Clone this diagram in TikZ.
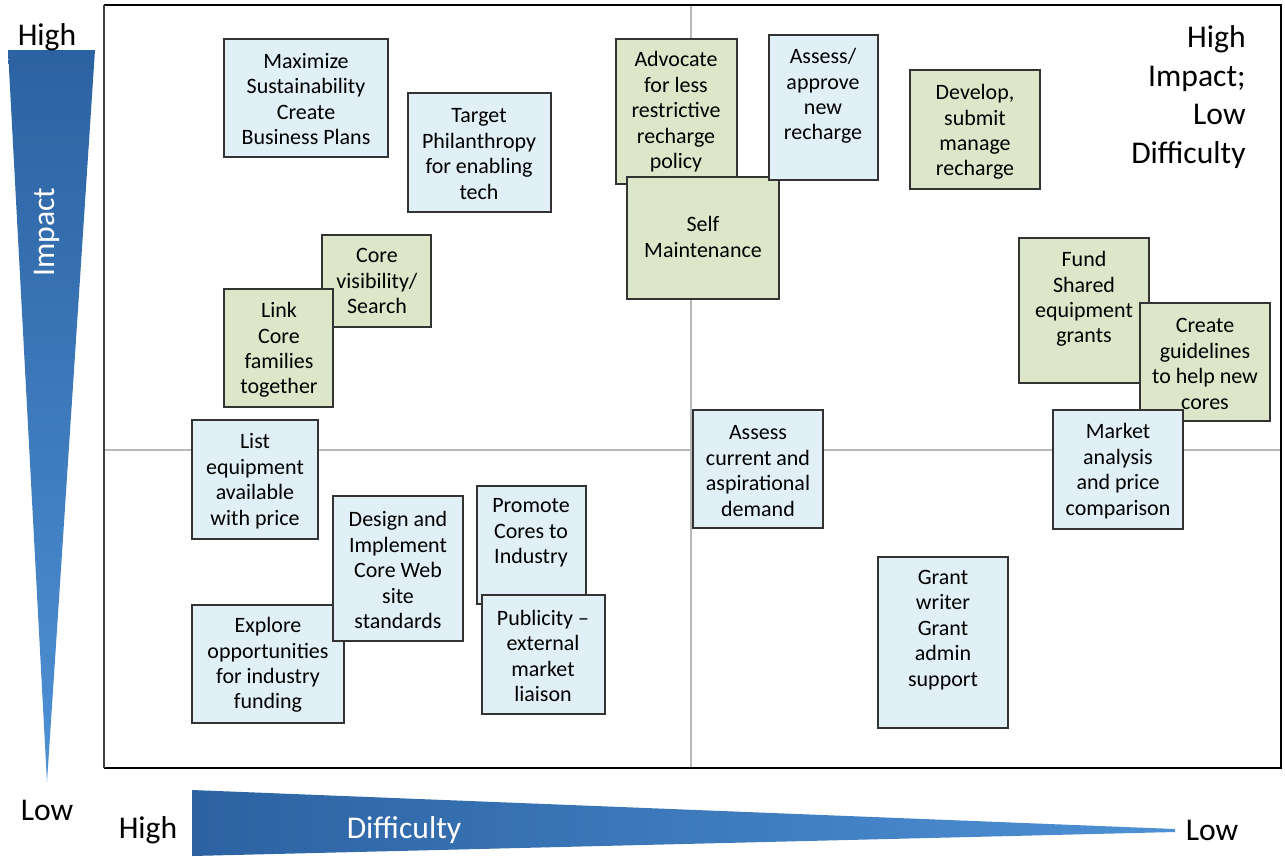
\documentclass[tikz,border=0pt]{standalone}
\usepackage{fontspec}
\setmainfont{Carlito}
\usetikzlibrary{fit,shadows}
\definecolor{bluef}{RGB}{225,239,246}
\definecolor{greenf}{RGB}{221,230,200}
\definecolor{darkb}{RGB}{44,98,162}
\definecolor{lightb}{RGB}{78,145,213}
\begin{document}
\begin{tikzpicture}[x=0.02cm,y=-0.02cm,
  boxbase/.style={draw=black!80, line width=0.9pt, inner sep=0pt,
     drop shadow={opacity=0.25, shadow xshift=0.6pt, shadow yshift=-0.6pt}},
  bluebox/.style={boxbase, fill=bluef},
  greenbox/.style={boxbase, fill=greenf},
  lbl/.style={align=center, inner sep=0pt, font=\fontsize{12.5}{14.5}\selectfont},
  axislbl/.style={inner sep=0pt, font=\fontsize{18}{22}\selectfont},
  quad/.style={black!28, line width=0.6pt}]
\useasboundingbox (0,0) rectangle (1285,856);
\fill[white] (0,0) rectangle (1285,856);

% axis wedges
\shade[top color=darkb, bottom color=lightb] (8,50) -- (95,50) -- (47,782) -- cycle;
\shade[left color=darkb, right color=lightb] (192,790) -- (1175,829) -- (1175,832) -- (192,856) -- cycle;
\node[axislbl, white, rotate=90] (impact) at (47,232) {Impact};
\node[axislbl, white] (difficulty) at (404,830) {Difficulty};
\node[axislbl] (ihigh) at (47,37) {High};
\node[axislbl] (ilow) at (47,810) {Low};
\node[axislbl] (dhigh) at (148,830) {High};
\node[axislbl] (dlow) at (1212,830) {Low};

% quadrant lines and frame
\draw[quad] (691,5) -- (691,768);
\draw[quad] (104,450) -- (1281,450);
\draw[line width=1.5pt] (104,5) -| (1281,768) -- (104,768);
\draw[line width=1pt, black!75] (104,5) -- (104,768);

\node[axislbl, align=right, anchor=east] (corner) at (1246,97) {High\\Impact;\\Low\\Difficulty};

% boxes
\node[bluebox, fit={(224,39) (388,157)}] (b1) {};
\node[lbl] (t1) at (306,99) {Maximize\\Sustainability\\Create\\Business Plans};

\node[bluebox, fit={(408,93) (551,212)}] (b2) {};
\node[lbl] (t2) at (479,154) {Target\\Philanthropy\\for enabling\\tech};

\node[greenbox, fit={(616,39) (737,184)}] (b3) {};
\node[lbl] (t3) at (676,112) {Advocate\\for less\\restrictive\\recharge\\policy};

\node[greenbox, fit={(627,177) (779,299)}] (b4) {};
\node[lbl] (t4) at (703,237) {Self\\Maintenance};

\node[bluebox, fit={(769,35) (878,180)}] (b5) {};
\node[lbl] (t5) at (823,96) {Assess/\\approve\\new\\recharge};

\node[greenbox, fit={(910,70) (1040,189)}] (b6) {};
\node[lbl] (t6) at (975,132) {Develop,\\submit\\manage\\recharge};

\node[greenbox, fit={(322,235) (431,327)}] (b7) {};
\node[lbl] (t7) at (377,281) {Core\\visibility/\\Search};

\node[greenbox, fit={(224,289) (333,407)}] (b8) {};
\node[lbl] (t8) at (279,350) {Link\\Core\\families\\together};

\node[greenbox, fit={(1019,238) (1149,383)}] (b9) {};
\node[lbl] (t9) at (1084,299) {Fund\\Shared\\equipment\\grants};

\node[greenbox, fit={(1140,303) (1270,421)}] (b10) {};
\node[lbl] (t10) at (1205,364) {Create\\guidelines\\to help new\\cores};

\node[bluebox, fit={(1053,410) (1183,529)}] (b11) {};
\node[lbl] (t11) at (1118,471) {Market\\analysis\\and price\\comparison};

\node[bluebox, fit={(693,410) (823,528)}] (b12) {};
\node[lbl] (t12) at (758,471) {Assess\\current and\\aspirational\\demand};

\node[bluebox, fit={(192,420) (318,539)}] (b13) {};
\node[lbl] (t13) at (255,481) {List\\equipment\\available\\with price};

\node[bluebox, fit={(192,605) (344,723)}] (b15) {};
\node[lbl] (t15) at (268,665) {Explore\\opportunities\\for industry\\funding};

\node[bluebox, fit={(333,496) (463,641)}] (b14) {};
\node[lbl] (t14) at (398,570) {Design and\\Implement\\Core Web\\site\\standards};

\node[bluebox, fit={(477,486) (586,604)}] (b16) {};
\node[lbl] (t16) at (531,533) {Promote\\Cores to\\Industry};

\node[bluebox, fit={(482,595) (605,714)}] (b17) {};
\node[lbl] (t17) at (543,656) {Publicity –\\external\\market\\liaison};

\node[bluebox, fit={(878,557) (1008,728)}] (b18) {};
\node[lbl] (t18) at (943,630) {Grant\\writer\\Grant\\admin\\support};
\end{tikzpicture}
\end{document}
